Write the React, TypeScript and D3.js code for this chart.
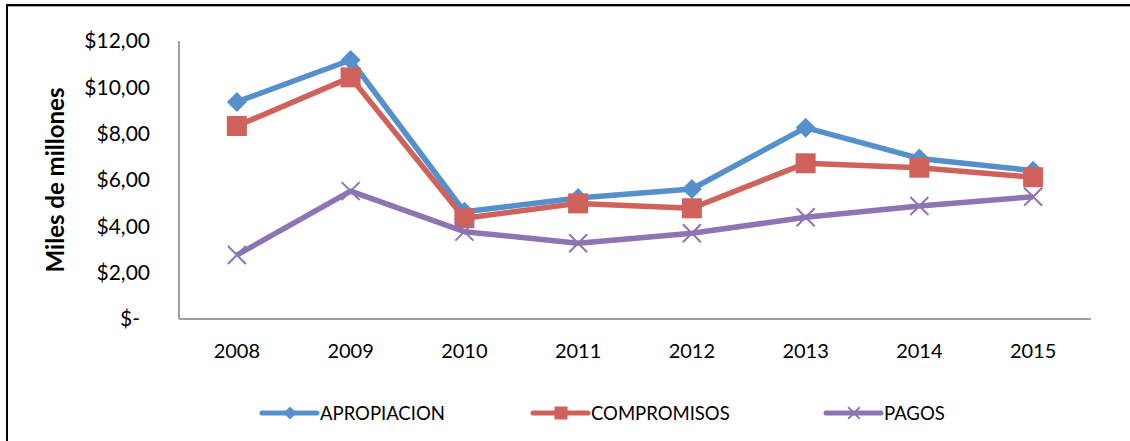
import React from "react";
import * as d3 from "d3";

const years = ["2008", "2009", "2010", "2011", "2012", "2013", "2014", "2015"];
const apropiacion = [9.37, 11.18, 4.63, 5.22, 5.61, 8.26, 6.93, 6.4];
const compromisos = [8.33, 10.43, 4.35, 4.99, 4.78, 6.72, 6.53, 6.12];
const pagos = [2.76, 5.52, 3.77, 3.27, 3.7, 4.39, 4.88, 5.28];
const yTicks = [0, 2, 4, 6, 8, 10, 12];
const seriesNames = ["APROPIACION", "COMPROMISOS", "PAGOS"];

const W = 1130;
const H = 441;
const FONT = "Lato, 'Open Sans', sans-serif";

const colors = ["#5690CC", "#CF625A", "#8E74B3"];
const markers = ["diamond", "square", "x"];

function fmt(v: number) {
  if (v === 0) return "$-";
  return "$" + v.toFixed(2).replace(".", ",");
}

function Marker({ type, x, y, color, scale = 1 }: any) {
  if (type === "diamond") {
    const s = 10 * scale;
    return <path d={`M${x},${y - s}L${x + s},${y}L${x},${y + s}L${x - s},${y}Z`} fill={color} />;
  }
  if (type === "square") {
    const s = 10 * scale;
    return <rect x={x - s} y={y - s} width={2 * s} height={2 * s} fill={color} />;
  }
  const s = 9 * scale;
  return (
    <path
      d={`M${x - s},${y - s}L${x + s},${y + s}M${x - s},${y + s}L${x + s},${y - s}`}
      stroke={color}
      strokeWidth={2}
      fill="none"
    />
  );
}

export default function App() {
  const left = 179;
  const right = 1091;
  const top = 41;
  const bottom = 319;
  const x = d3.scaleBand<string>().domain(years).range([left + 1, right - 1]);
  const y = d3.scaleLinear().domain([0, 12]).range([bottom, top]);
  const cx = (d: string) => (x(d) as number) + x.bandwidth() / 2;
  const data = [apropiacion, compromisos, pagos];
  const line = d3
    .line<number>()
    .x((_, i) => cx(years[i]))
    .y((d) => y(d));

  const legendX = [262, 533, 826];

  return (
    <svg width={W} height={H} style={{ display: "block", position: "absolute", left: 0, top: 0 }}>
      <rect x={0} y={0} width={W} height={H} fill="#fff" />
      <rect x={7} y={5} width={1300} height={600} fill="none" stroke="#000" strokeWidth={2} />
      <line x1={8} x2={W} y1={6.5} y2={6.5} stroke="#aaa" strokeWidth={1} />
      {/* axes */}
      <line x1={left} x2={left} y1={top} y2={bottom} stroke="#A0A0A0" strokeWidth={2} />
      <line x1={left} x2={right} y1={bottom} y2={bottom} stroke="#A0A0A0" strokeWidth={2} />
      {yTicks.map((t) => (
        <text
          key={t}
          x={t === 0 ? 140 : 150}
          y={y(t)}
          dy="0.35em"
          textAnchor="end"
          fontFamily={FONT}
          fontSize={21}
          fill="#000"
        >
          {fmt(t)}
        </text>
      ))}
      {years.map((yr) => (
        <text
          key={yr}
          x={cx(yr)}
          y={351}
          dy="0.35em"
          textAnchor="middle"
          fontFamily={FONT}
          fontSize={20}
          fill="#000"
        >
          {yr}
        </text>
      ))}
      <text
        transform={`translate(56,180) rotate(-90)`}
        textAnchor="middle"
        dy="0.35em"
        fontFamily={FONT}
        fontWeight="bold"
        fontSize={24}
        fill="#000"
      >
        Miles de millones
      </text>
      {data.map((s, k) => (
        <g key={k}>
          <path
            d={line(s) || ""}
            fill="none"
            stroke={colors[k]}
            strokeWidth={5.5}
            strokeLinejoin="round"
          />
          {s.map((v, i) => (
            <Marker key={i} type={markers[k]} x={cx(years[i])} y={y(v)} color={colors[k]} />
          ))}
        </g>
      ))}
      {seriesNames.map((n, k) => (
        <g key={n}>
          <line
            x1={legendX[k]}
            x2={legendX[k] + 55}
            y1={413}
            y2={413}
            stroke={colors[k]}
            strokeWidth={5}
            strokeLinecap="round"
          />
          <Marker type={markers[k]} x={legendX[k] + 28} y={413} color={colors[k]} scale={0.65} />
          <text
            x={legendX[k] + 58}
            y={414}
            dy="0.35em"
            fontFamily={FONT}
            fontSize={18.5}
            fill="#000"
          >
            {n}
          </text>
        </g>
      ))}
    </svg>
  );
}
